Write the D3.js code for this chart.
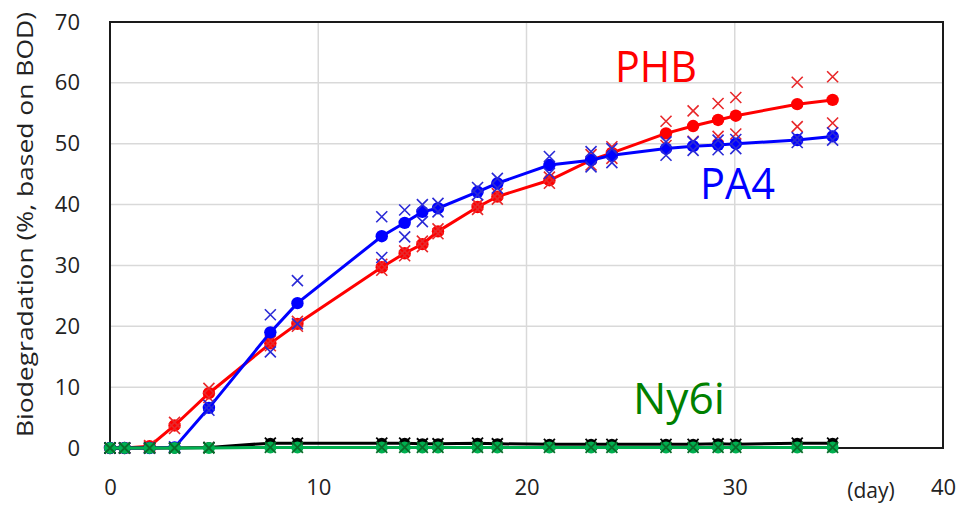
<!DOCTYPE html>
<html>
<head>
<meta charset="utf-8">
<script src="https://cdn.jsdelivr.net/npm/d3@7"></script>
<style>
  html, body { margin: 0; padding: 0; background: #fff; }
  svg { display: block; font-family: "Open Sans", "Noto Sans", sans-serif; }
</style>
</head>
<body>
<svg id="chart" width="957" height="507"></svg>
<script>
// ---- data ----
const days = [0, 0.7, 1.9, 3.1, 4.75, 7.7, 9.0, 13.05, 14.15, 15.0, 15.75, 17.65, 18.6, 21.1, 23.1, 24.1, 26.7, 28.0, 29.2, 30.05, 33.0, 34.7];

const phbMean    = [0, 0, 0.3, 3.7, 9.0, 17.2, 20.4, 29.7, 32.0, 33.5, 35.6, 39.6, 41.3, 44.0, 47.3, 48.5, 51.7, 52.9, 53.9, 54.6, 56.5, 57.2];
const phbRepHigh = [0, 0, 0.4, 4.2, 9.8, 17.6, 20.8, 30.2, 32.4, 34.0, 36.0, 40.0, 41.8, 44.5, 48.2, 49.5, 53.7, 55.4, 56.6, 57.6, 60.1, 61.0];
const phbRepLow  = [0, 0, 0.2, 3.2, 8.3, 16.8, 20.0, 29.2, 31.6, 33.1, 35.2, 39.2, 40.9, 43.5, 46.5, 47.6, 49.7, 50.4, 51.2, 51.6, 52.8, 53.4];

const pa4Mean    = [0, 0, 0, 0.1, 6.6, 19.0, 23.8, 34.8, 37.0, 38.8, 39.4, 42.1, 43.5, 46.5, 47.3, 48.1, 49.2, 49.6, 49.8, 50.0, 50.6, 51.2];
const pa4RepHigh = [0, 0, 0, 0.2, 7.0, 21.9, 27.5, 38.0, 39.1, 40.0, 40.2, 42.8, 44.3, 47.9, 48.7, 49.2, 50.3, 50.3, 50.6, 50.7, 51.0, 51.8];
const pa4RepLow  = [0, 0, 0, 0, 6.2, 15.8, 20.4, 31.3, 34.7, 37.2, 38.8, 41.6, 42.7, 45.1, 46.2, 46.9, 48.1, 48.9, 49.0, 49.2, 50.2, 50.6];

const ny6iA = [0, 0, 0, 0, 0.1, 0.8, 0.8, 0.8, 0.8, 0.7, 0.7, 0.8, 0.7, 0.6, 0.6, 0.6, 0.6, 0.6, 0.7, 0.6, 0.8, 0.8];
const ny6iB = [0, 0, 0, 0, 0, 0.1, 0.1, 0.1, 0.1, 0.1, 0.1, 0.1, 0.1, 0.1, 0.1, 0.1, 0.1, 0.1, 0.1, 0.1, 0.1, 0.1];

const xTicks = [0, 10, 20, 30, 40];
const yTicks = [0, 10, 20, 30, 40, 50, 60, 70];
const yLabel = "Biodegradation (%, based on BOD)";
const xUnit = "(day)";
const seriesLabels = ["PHB", "PA4", "Ny6i"];

// ---- layout ----
const svg = d3.select("#chart");
const mLeft = 110, mRight = 943, mTop = 22, mBottom = 448;
const x = d3.scaleLinear().domain([0, 40]).range([mLeft, mRight]);
const y = d3.scaleLinear().domain([0, 70]).range([mBottom, mTop]);

// gridlines
svg.append("g").selectAll("line").data(yTicks.filter(v => v > 0 && v < 70)).join("line")
  .attr("x1", mLeft).attr("x2", mRight).attr("y1", d => y(d)).attr("y2", d => y(d))
  .attr("stroke", "#d9d9d9").attr("stroke-width", 1.5);
svg.append("g").selectAll("line").data(xTicks.filter(v => v > 0 && v < 40)).join("line")
  .attr("y1", mTop).attr("y2", mBottom).attr("x1", d => x(d)).attr("x2", d => x(d))
  .attr("stroke", "#d9d9d9").attr("stroke-width", 1.5);

// axes with d3 axis generators (labels only, frame drawn separately)
const yAxis = svg.append("g").attr("transform", `translate(${mLeft},0)`)
  .call(d3.axisLeft(y).tickValues(yTicks).tickSize(0).tickPadding(30));
yAxis.select(".domain").remove();
yAxis.selectAll("text").attr("font-size", 22).attr("fill", "#222")
  .attr("font-family", "Open Sans, Noto Sans, sans-serif");

const xAxis = svg.append("g").attr("transform", `translate(0,${mBottom})`)
  .call(d3.axisBottom(x).tickValues(xTicks).tickSize(0).tickPadding(31));
xAxis.select(".domain").remove();
xAxis.selectAll("text").attr("font-size", 22).attr("fill", "#222")
  .attr("font-family", "Open Sans, Noto Sans, sans-serif");

// frame
svg.append("rect").attr("x", mLeft).attr("y", mTop).attr("width", mRight - mLeft).attr("height", mBottom - mTop)
  .attr("fill", "none").attr("stroke", "#1a1a1a").attr("stroke-width", 2);

// axis titles
svg.append("text").attr("transform", `translate(33,${(12 + 437) / 2}) rotate(-90)`)
  .attr("text-anchor", "middle").attr("font-size", 21).attr("fill", "#222")
  .attr("textLength", 425).attr("lengthAdjust", "spacingAndGlyphs")
  .text(yLabel);
svg.append("text").attr("x", 871).attr("y", 498).attr("text-anchor", "middle")
  .attr("font-size", 21).attr("fill", "#222").text(xUnit);

// ---- series ----
const line = d3.line().x(d => x(d[0])).y(d => y(d[1]));
const pts = arr => days.map((d, i) => [d, arr[i]]);

function crosses(arr, color, size, sw) {
  const g = svg.append("g");
  g.selectAll("path").data(pts(arr)).join("path")
    .attr("d", d => {
      const cx = x(d[0]), cy = y(d[1]), s = size;
      return `M${cx - s},${cy - s}L${cx + s},${cy + s}M${cx - s},${cy + s}L${cx + s},${cy - s}`;
    })
    .attr("stroke", color).attr("stroke-width", sw).attr("fill", "none");
}
function series(mean, color, r, lw) {
  svg.append("path").datum(pts(mean)).attr("d", line)
    .attr("fill", "none").attr("stroke", color).attr("stroke-width", lw);
  svg.append("g").selectAll("circle").data(pts(mean)).join("circle")
    .attr("cx", d => x(d[0])).attr("cy", d => y(d[1])).attr("r", r).attr("fill", color);
}

// PHB (red)
series(phbMean, "#ff0000", 6.2, 3);
crosses(phbRepHigh, "#e8282a", 5.5, 1.6);
crosses(phbRepLow, "#e8282a", 5.5, 1.6);

// PA4 (blue)
series(pa4Mean, "#0000ff", 6.2, 3);
crosses(pa4RepHigh, "#2a2ad6", 5.5, 1.6);
crosses(pa4RepLow, "#2a2ad6", 5.5, 1.6);

// Ny6i (black and green replicates)
series(ny6iA, "#000000", 5.5, 3);
crosses(ny6iA, "#000000", 5.5, 1.8);
series(ny6iB, "#00b050", 6, 3);
crosses(ny6iB, "#0a6b2a", 5.5, 1.8);

// series labels
svg.append("text").attr("x", 615).attr("y", 82).attr("font-size", 44).attr("fill", "#ff0000")
  .attr("textLength", 82).attr("lengthAdjust", "spacingAndGlyphs").text(seriesLabels[0]);
svg.append("text").attr("x", 700).attr("y", 199).attr("font-size", 43).attr("fill", "#0000ff")
  .attr("textLength", 75).attr("lengthAdjust", "spacingAndGlyphs").text(seriesLabels[1]);
svg.append("text").attr("x", 633).attr("y", 414).attr("font-size", 43).attr("fill", "#008000")
  .attr("textLength", 92).attr("lengthAdjust", "spacingAndGlyphs").text(seriesLabels[2]);
</script>
</body>
</html>
